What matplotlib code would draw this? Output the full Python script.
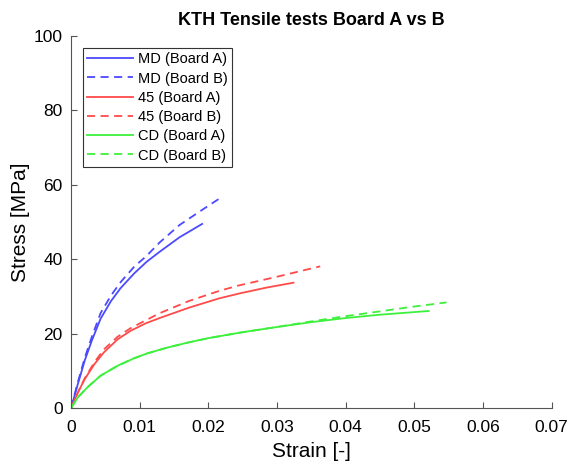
import matplotlib
matplotlib.use("Agg")
import matplotlib.pyplot as plt

plt.rcParams["font.family"] = ["Liberation Sans", "DejaVu Sans"]

# stress-strain curves
md_a_strain = [0, 0.001, 0.002, 0.003, 0.0043, 0.0058, 0.0072, 0.0092, 0.011, 0.0129, 0.0158, 0.0191]
md_a_stress = [0, 6.5, 12.8, 18.0, 24.0, 28.7, 32.2, 36.2, 39.3, 42.0, 45.9, 49.5]
md_b_strain = [0, 0.001, 0.002, 0.003, 0.0043, 0.0058, 0.0072, 0.0092, 0.011, 0.0129, 0.0158, 0.0192, 0.0221]
md_b_stress = [0, 7.0, 13.5, 19.0, 25.5, 30.2, 33.8, 38.0, 40.9, 44.5, 49.2, 53.4, 56.9]
d45_a_strain = [0, 0.001, 0.002, 0.0034, 0.0048, 0.0068, 0.0087, 0.0109, 0.0129, 0.0172, 0.0216, 0.0245, 0.0285, 0.0324]
d45_a_stress = [0, 4.2, 7.8, 11.8, 15.0, 18.5, 20.8, 22.8, 24.2, 27.0, 29.5, 30.8, 32.4, 33.7]
d45_b_strain = [0, 0.001, 0.002, 0.0034, 0.0048, 0.0068, 0.0087, 0.0109, 0.0129, 0.0172, 0.0216, 0.0243, 0.03, 0.0363]
d45_b_stress = [0, 4.2, 8.0, 12.3, 15.8, 19.2, 21.5, 23.6, 25.5, 28.8, 31.5, 32.9, 35.3, 38.1]
cd_a_strain = [0, 0.001, 0.0024, 0.0043, 0.0068, 0.0092, 0.0111, 0.0141, 0.017, 0.02, 0.025, 0.03, 0.035, 0.04, 0.045, 0.0521]
cd_a_stress = [0, 2.9, 5.6, 8.7, 11.4, 13.4, 14.7, 16.3, 17.6, 18.8, 20.4, 21.8, 23.1, 24.2, 25.1, 26.1]
cd_b_strain = [0, 0.001, 0.0024, 0.0043, 0.0068, 0.0092, 0.0111, 0.0141, 0.017, 0.02, 0.025, 0.03, 0.035, 0.04, 0.045, 0.05, 0.0547]
cd_b_stress = [0, 2.9, 5.6, 8.7, 11.4, 13.4, 14.7, 16.3, 17.6, 18.8, 20.4, 21.8, 23.3, 24.7, 26.0, 27.3, 28.4]

x_ticks = [0, 0.01, 0.02, 0.03, 0.04, 0.05, 0.06, 0.07]
x_labels = ["0", "0.01", "0.02", "0.03", "0.04", "0.05", "0.06", "0.07"]
y_ticks = [0, 20, 40, 60, 80, 100]

blue = "#4a4aff"
red = "#ff4a4a"
green = "#3cf03c"

fig = plt.figure(figsize=(5.7, 4.68), dpi=100)
ax = fig.add_axes([0.1246, 0.128, 0.843, 0.795])

series = [
    (md_a_strain, md_a_stress, blue, "-", "MD (Board A)"),
    (md_b_strain, md_b_stress, blue, "--", "MD (Board B)"),
    (d45_a_strain, d45_a_stress, red, "-", "45 (Board A)"),
    (d45_b_strain, d45_b_stress, red, "--", "45 (Board B)"),
    (cd_a_strain, cd_a_stress, green, "-", "CD (Board A)"),
    (cd_b_strain, cd_b_stress, green, "--", "CD (Board B)"),
]
for xs, ys, color, ls, label in series:
    line, = ax.plot(xs, ys, color=color, linestyle=ls, linewidth=1.3, label=label)
    if ls == "--":
        line.set_dashes((4.5, 3))

ax.set_xlim(0, 0.07)
ax.set_ylim(0, 100)
ax.set_xticks(x_ticks)
ax.set_xticklabels(x_labels)
ax.set_yticks(y_ticks)
ax.tick_params(direction="in", length=4, labelsize=12.5, color="#555555")
ax.tick_params(axis="x", pad=8.5)
ax.tick_params(axis="y", pad=6)
for side in ["top", "right"]:
    ax.spines[side].set_visible(False)
for side in ["left", "bottom"]:
    ax.spines[side].set_color("#555555")

ax.set_xlabel("Strain [-]", fontsize=15, labelpad=5)
ax.set_ylabel("Stress [MPa]", fontsize=15, labelpad=3)
ax.set_title("KTH Tensile tests Board A vs B", fontsize=13, fontweight="bold", pad=8)

leg = ax.legend(loc="upper left", bbox_to_anchor=(0.025, 0.968), fontsize=10.5,
                handlelength=3.1, handletextpad=0.35, labelspacing=0.36,
                borderpad=0.3, borderaxespad=0, fancybox=False, framealpha=1)
leg.get_frame().set_edgecolor("#333333")
leg.get_frame().set_linewidth(0.8)

fig.savefig("out.png", dpi=100)
